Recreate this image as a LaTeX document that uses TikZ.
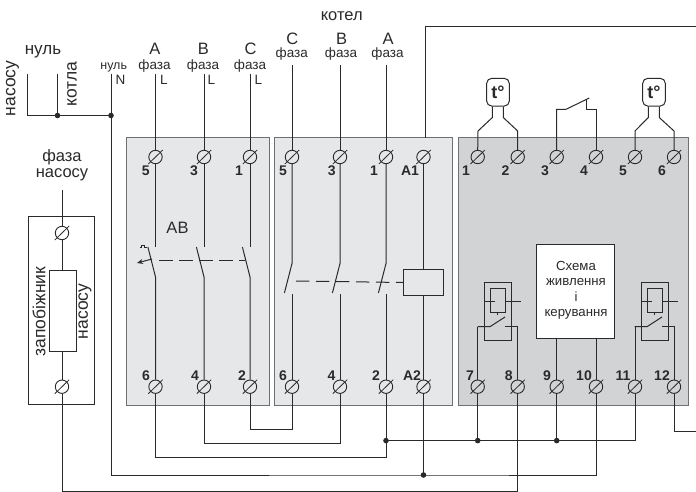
\documentclass[tikz,border=0pt]{standalone}
\usepackage{fontspec}
\setmainfont{Liberation Sans}
\usetikzlibrary{arrows.meta}
\definecolor{ink}{HTML}{2B2A2A}
\definecolor{edge}{HTML}{6E7072}
\definecolor{lightblock}{HTML}{E6E7E8}
\definecolor{darkblock}{HTML}{D1D3D4}
\tikzset{
  wire/.style={draw=ink,line width=1pt},
  thinbox/.style={draw=ink,line width=.7pt},
  block/.style={draw=edge,line width=1pt},
  termnode/.style={circle,draw=ink,line width=.9pt,minimum size=13.4pt,inner sep=0pt},
  slash/.style={draw=ink,line width=.8pt},
  dot/.style={circle,fill=ink,minimum size=5.6pt,inner sep=0pt},
  big/.style={font=\fontsize{16.5}{18}\selectfont,text=ink,inner sep=0pt},
  bigger/.style={font=\fontsize{17.5}{19}\selectfont,text=ink,inner sep=0pt},
  mid/.style={font=\fontsize{13.5}{15}\selectfont,text=ink,inner sep=0pt},
  ctrltext/.style={font=\fontsize{13.2}{15}\selectfont,text=ink,inner sep=0pt},
  small/.style={font=\fontsize{12.5}{14}\selectfont,text=ink,inner sep=0pt},
  num/.style={font=\fontsize{14}{15}\selectfont\bfseries,text=ink,inner sep=0pt},
  sensor/.style={draw=ink,line width=1pt,rounded corners=5pt,minimum width=22.6pt,minimum height=27.7pt,inner sep=0pt,font=\fontsize{18}{20}\selectfont\bfseries,text=ink},
}
\newcommand{\terminals}[2]{%
  \foreach \n/\x/\y in {#2}{%
    \node[termnode,fill=#1] (\n) at (\x,\y) {};
    \draw[slash] ([shift={(-7.2,7)}]\n.center) -- ([shift={(7.2,-7)}]\n.center);
  }}
\begin{document}
\begin{tikzpicture}[x=1pt,y=-1pt]
\useasboundingbox (0,0) rectangle (696,492);
\fill[white] (0,0) rectangle (696,492);

% blocks
\draw[block,fill=lightblock] (126.7,137.7) rectangle (269.5,405);
\draw[block,fill=lightblock] (274,137.7) rectangle (452,405);
\draw[block,fill=darkblock] (458.3,137.7) rectangle (688,405);
\draw[thinbox] (28.5,216) rectangle (94,404.5);

% terminals
\terminals{lightblock}{a5/155.5/157,a3/204/157,a1/250/157,a6/155.5/386.7,a4/204/386.7,a2/250/386.7,
  b5/292/157,b3/340/157,b1/386/157,bA1/423.5/157,b6/292/386.7,b4/340/386.7,b2/386/386.7,bA2/423.5/386.7}
\terminals{darkblock}{c1/477.7/157,c2/517.7/157,c3/556.7/157,c4/596/157,c5/635/157,c6/674/157,
  c7/477.7/386.7,c8/517.7/386.7,c9/556.7/386.7,c10/596/386.7,c11/635/386.7,c12/674/386.7}
\terminals{white}{f1/62/233,f2/62/386.7}

% fuse
\node[thinbox,fill=white,minimum width=27pt,minimum height=81.5pt,inner sep=0pt] (fuse) at (62.5,310.7) {};
\coordinate (fasaTop) at (62,190);
\draw[wire] (fasaTop) -- (f1.north);
\draw[wire] (f1.south) -- (f1.south |- fuse.north);
\draw[wire] (f2.north) -- (f2.north |- fuse.south);

% neutrals
\coordinate (nPump) at (27.5,74);
\coordinate (nBoiler) at (57.5,74);
\coordinate (nMain) at (111,74);
\node[dot] (j1) at (57.5,115.5) {};
\node[dot] (j2) at (111,115.5) {};
\draw[wire] (nPump) |- (j1.center) -- (j2.center);
\draw[wire] (nBoiler) -- (j1.center);
\draw[wire] (nMain) -- (j2.center);

% incoming phases
\coordinate (inA) at (155.5,74);
\coordinate (inB) at (204,74);
\coordinate (inC) at (250,74);
\coordinate (outC) at (292,65);
\coordinate (outB) at (340,65);
\coordinate (outA) at (386,65);
\draw[wire] (inA) -- (a5.north);
\draw[wire] (inB) -- (a3.north);
\draw[wire] (inC) -- (a1.north);
\draw[wire] (outC) -- (b5.north);
\draw[wire] (outB) -- (b3.north);
\draw[wire] (outA) -- (b1.north);

% breaker contacts
\foreach \t/\b in {a5/a6,a3/a4,a1/a2}{
  \draw[wire] (\t.south) -- (\t.south |- 0,247);
  \draw[wire] ([shift={(-7.6,0)}]\t.south |- 0,247) -- (\b.north |- 0,277) -- (\b.north);
}
\draw[wire,dash pattern=on 14pt off 6pt] (159,260) -- (245,260);
\draw[wire,line width=.7pt] (140,247.5) -- (141,247.5) -- (141,245) -- (144,245) -- (144,247.5) -- (147,247.5);
\draw[wire,-{Stealth[length=6pt,width=5pt]}] (152,259) -- (137,263);
\node[big] (ab) at (177.5,228) {АВ};

% contactor contacts
\foreach \t/\b in {b5/b6,b3/b4,b1/b2}{
  \draw[wire] (\t.south) -- (\t.south |- 0,263.5) -- ([shift={(-7.6,0)}]\t.south |- 0,293);
  \draw[wire] (\b.north |- 0,294) -- (\b.north);
}
\node[draw=ink,line width=1.1pt,fill=lightblock,minimum width=40pt,minimum height=25.6pt,inner sep=0pt] (coil) at (423.4,282.5) {};
\draw[wire,dash pattern=on 13.3pt off 6.7pt] (296,281) -- (coil.west);
\draw[wire] (bA1.south) -- (bA1.south |- coil.north);
\draw[wire] (coil.south -| bA2) -- (bA2.north);

% sensors
\node[sensor] (s1) at (498,92.2) {t°};
\node[sensor] (s2) at (654,92.2) {t°};
\draw[wire] ([xshift=-5.7pt]s1.south) -- ++(0,11) -- (478,131) -- (c1.north);
\draw[wire] ([xshift=5.3pt]s1.south) -- ++(0,11) -- (517.7,131) -- (c2.north);
\draw[wire] ([xshift=-5.7pt]s2.south) -- ++(0,11) -- (635,131) -- (c5.north);
\draw[wire] ([xshift=5.3pt]s2.south) -- ++(0,11) -- (674,131) -- (c6.north);

% thermostat contact
\draw[wire] (c3.north) -- (c3.north |- 0,109.3) -- (566,109.3) -- (589.3,98);
\draw[wire] (586,100) -- (586,109.3) -- (596,109.3) -- (c4.north);

% control box
\node[draw=ink,line width=1.2pt,fill=white,minimum width=78pt,minimum height=94pt,inner sep=0pt] (ctrl) at (575.7,291.3) {};
\node[ctrltext] (t1) at (576,266) {Схема};
\node[ctrltext] (t2) at (576,282.5) {живлення};
\node[ctrltext] (t3) at (576,297) {і};
\node[ctrltext] (t4) at (576,314) {керування};
\draw[wire] (c9.north) -- (c9.north |- ctrl.south);
\draw[wire] (c10.north) -- (c10.north |- ctrl.south);

% relays
\foreach \dx/\l/\r in {0/c7/c8,157/c11/c12}{
  \begin{scope}[shift={(\dx,0)}]
    \draw[line width=.7pt,draw=ink] (484.3,282.7) rectangle (511.7,340);
    \draw[line width=1pt,draw=ink] (490.7,288.3) rectangle (505.7,312.7);
    \draw[line width=.8pt,draw=ink] (485,301) -- (495,301);
    \draw[line width=.8pt,draw=ink] (505.7,301) -- (521,301);
    \draw[line width=.7pt,draw=ink] (497.7,312.7) -- (497.7,315);
    \draw[wire] (477.7,326.7) -- (490,326.7) -- (505,317);
    \draw[wire] (505,326.7) -- (517.7,326.7);
  \end{scope}
  \draw[wire] (\l.north) -- (\l.north |- 0,326.7);
  \draw[wire] (\r.north) -- (\r.north |- 0,326.7);
}

% bottom wiring
\node[dot] (j3) at (386,440.6) {};
\node[dot] (j4) at (423.5,475) {};
\node[dot] (j5) at (477.7,440.6) {};
\node[dot] (j6) at (556.7,440.6) {};
\coordinate (exit12) at (696,431);
\coordinate (exitTop) at (696,27);
\draw[wire] (a2.south) |- (0,429 -| b6) -- (b6.south);
\draw[wire] (a4.south) |- (0,443.5 -| b4) -- (b4.south);
\draw[wire] (a6.south) |- (0,457 -| b2) -- (j3.center);
\draw[wire] (b2.south) -- (j3.center) -- (j5.center) -- (j6.center) -| (c11.south);
\draw[wire] (c7.south) -- (j5.center);
\draw[wire] (c9.south) -- (j6.center);
\draw[wire] (nMain) -- (111,475) -- (j4.center) -| (c10.south);
\draw[wire] (bA2.south) -- (j4.center);
\draw[wire] (f2.south) |- (0,491 -| c8) -- (c8.south);
\draw[wire] (c12.south) |- (exit12);
\draw[wire] (425.7,137.7) |- (exitTop);

% labels
\node[font=\fontsize{17}{18}\selectfont,text=ink,inner sep=0pt] (lNul) at (43,51.5) {нуль};
\node[bigger,rotate=90] (lPump) at (12.5,88.5) {насосу};
\node[bigger,rotate=90] (lBoiler) at (72,84) {котла};
\node[small] (lN0) at (113.7,67) {нуль};
\node[mid] (lN) at (120.5,80) {N};
\foreach \x/\L/\xx in {155/A/164,203.5/B/211.5,250.5/C/258.5}{
  \node[big] at (\x,49) {\L};
  \node[mid] at (\x-.5,66) {фаза};
  \node[mid] at (\xx,80) {L};
}
\node[big] (lKotel) at (341.7,16.5) {котел};
\foreach \x/\L in {292.3/C,341.5/B,388/A}{
  \node[big] at (\x,38.7) {\L};
  \node[mid] at (\x-.5,54) {фаза};
}
\node[big] (lF1) at (62,157.5) {фаза};
\node[big] (lF2) at (62,175) {насосу};
\node[bigger,rotate=90] (lF3) at (39,311.5) {запобіжник};
\node[bigger,rotate=90] (lF4) at (85,311.5) {насосу};

% numbers
\foreach \x/\s in {145.7/5,194/3,239/1,283/5,331.7/3,374/1,410/A1,466/1,505.5/2,545/3,584/4,623/5,662/6}{
  \node[num] at (\x,171) {\s};
}
\foreach \x/\s in {146/6,195/4,242/2,283/6,331.5/4,376/2,412/A2,470/7,508.7/8,547/9,584/10,623/11,662/12}{
  \node[num] at (\x,375.5) {\s};
}
\end{tikzpicture}
\end{document}
